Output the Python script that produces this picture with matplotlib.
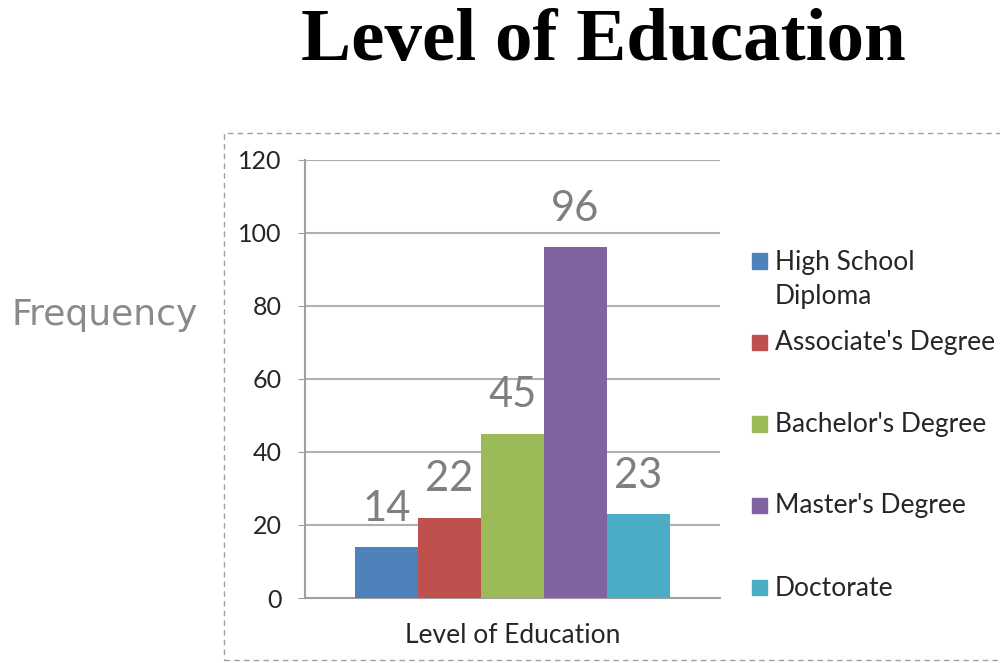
import matplotlib.pyplot as plt
from matplotlib.patches import Rectangle

# education levels and counts
levels = ["High School\nDiploma", "Associate's Degree", "Bachelor's Degree",
          "Master's Degree", "Doctorate"]
counts = [14, 22, 45, 96, 23]
colors = ["#4F81BD", "#C0504D", "#9BBB59", "#8064A2", "#4BACC6"]
yticks = [0, 20, 40, 60, 80, 100, 120]

plt.rcParams['font.family'] = ['Lato', 'DejaVu Sans']

fig = plt.figure(figsize=(10, 6.63), dpi=100)
ax = fig.add_axes([0.305, 0.098, 0.415, 0.661])

# one cluster, bars side by side
pos = list(range(len(counts)))
ax.bar(pos, counts, width=1.0, color=colors, zorder=3)
for p, c in zip(pos, counts):
    ax.annotate(str(c), (p, c), xytext=(0, 19), textcoords='offset points',
                ha='center', va='baseline', fontsize=30, color='#7f7f7f', zorder=4)

ax.set_xlim(-1.294, 5.294)
ax.set_ylim(0, 120)
ax.set_yticks(yticks)
ax.set_xticks([])
ax.tick_params(axis='y', labelsize=18, length=5, color='#a0a0a0', pad=12,
               labelcolor='#262626')
ax.yaxis.grid(True, color='#b0b0b0', lw=1.5, zorder=0)
for s in ['top', 'right']:
    ax.spines[s].set_visible(False)
for s in ['left', 'bottom']:
    ax.spines[s].set_color('#a0a0a0')
    ax.spines[s].set_linewidth(1.5)
ax.set_xlabel('Level of Education', fontsize=19, labelpad=18, color='#262626')

# legend drawn by hand
leg_y = [0.606, 0.483, 0.360, 0.237, 0.113]
for lab, col, y in zip(levels, colors, leg_y):
    fig.patches.append(Rectangle((0.752, y - 0.011), 0.015, 0.023,
                                 transform=fig.transFigure, color=col))
    ty = y - 0.027 if '\n' in lab else y
    fig.text(0.775, ty, lab, fontsize=19, va='center', ha='left',
             linespacing=1.45, color='#262626')

# dashed chart border
fig.patches.append(Rectangle((0.224, 0.005), 0.79, 0.795, transform=fig.transFigure,
                             fill=False, ls=(0, (4, 3)), lw=1, ec='#a0a0a0'))

fig.text(0.603, 0.937, 'Level of Education', fontsize=54, fontweight='bold',
         family='Liberation Serif', ha='center', va='center')
fig.text(0.105, 0.525, 'Frequency', fontsize=26, color='#8a8a8a',
         family='DejaVu Sans', ha='center', va='center')

fig.savefig('out.png')
